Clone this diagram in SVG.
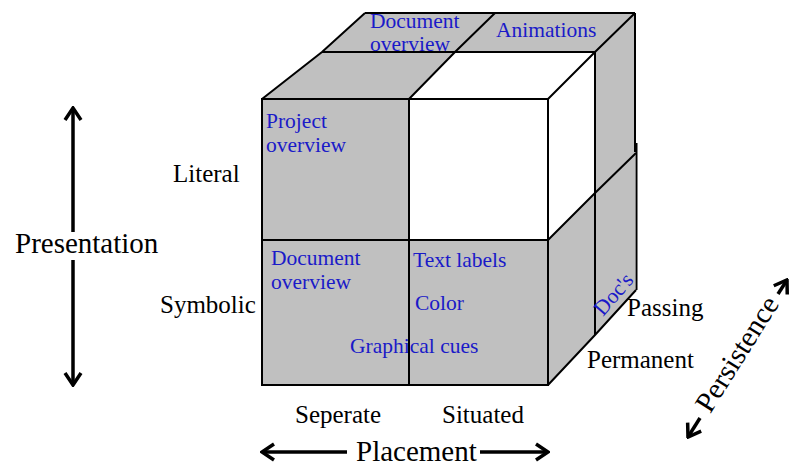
<svg xmlns="http://www.w3.org/2000/svg" width="789" height="467" viewBox="0 0 789 467">
<style>
.g{fill:#c0c0c0;stroke:none}
.w{fill:#ffffff;stroke:none}
.e{fill:none;stroke:#000;stroke-width:2;stroke-linejoin:miter}
.b{font-family:"Liberation Serif","Times New Roman",serif;font-size:21.5px;fill:#1a1ac8}
.k{font-family:"Liberation Serif","Times New Roman",serif;font-size:25px;fill:#000}
.t{font-family:"Liberation Serif","Times New Roman",serif;font-size:29px;fill:#000}
.ax{fill:none;stroke:#000;stroke-width:3.5}
</style>
<defs>
<marker id="chev" viewBox="-14 -10 16 20" refX="0" refY="0" markerWidth="16" markerHeight="20" markerUnits="userSpaceOnUse" orient="auto-start-reverse">
<path d="M-12,-8 L0,0 L-12,8" fill="none" stroke="#000" stroke-width="3.5"/>
</marker>
</defs>
<rect width="789" height="467" fill="#fff"/>
<g id="cube">
<g id="right-strip"><polygon class="g" points="595,52 635,13 635,290 595,335"/></g>
<g id="top-back">
<polygon class="g" points="322,52 365,13 635,13 595,52"/>
<text class="b" x="370" y="28">Document</text>
<text class="b" x="370" y="51">overview</text>
<text class="b" x="496" y="37">Animations</text>
</g>
<g id="top-front">
<polygon class="g" points="262,99 322,52 455,52 409,99"/>
<polygon class="w" points="409,99 455,52 595,52 548,99"/>
</g>
<g id="literal-separate">
<rect class="g" x="262" y="99" width="147" height="141"/>
<text class="b" x="266" y="128">Project</text>
<text class="b" x="266" y="152">overview</text>
</g>
<g id="literal-situated">
<rect class="w" x="409" y="99" width="139" height="141"/>
<polygon class="w" points="548,99 595,52 595,193 548,240"/>
</g>
<g id="symbolic-separate">
<rect class="g" x="262" y="240" width="147" height="145"/>
<text class="b" x="271" y="265">Document</text>
<text class="b" x="271" y="289">overview</text>
</g>
<g id="symbolic-situated">
<rect class="g" x="409" y="240" width="139" height="145"/>
<polygon class="g" points="548,240 595,193 595,335 548,385"/>
<text class="b" x="413" y="267">Text labels</text>
<text class="b" x="415" y="310">Color</text>
</g>
<text class="b" x="350" y="353">Graphical cues</text>
<g id="edges">
<polyline class="e" points="365,13 635,13"/>
<polyline class="e" points="322,52 595,52"/>
<polyline class="e" points="262,99 322,52 365,13"/>
<polyline class="e" points="409,99 455,52 495,13"/>
<polyline class="e" points="548,99 595,52 635,13"/>
<polyline class="e" points="635,13 635,152"/>
<polyline class="e" points="636.5,143 636.5,290"/>
<polyline class="e" points="595,52 595,335"/>
<rect class="e" x="262" y="99" width="286" height="286"/>
<polyline class="e" points="409,99 409,385"/>
<polyline class="e" points="262,240 548,240"/>
<polyline class="e" points="548,240 595,193 636,153"/>
<polyline class="e" points="548,385 595,335 636,290"/>
</g>
<g id="passing-column">
<text class="b" x="603" y="317" transform="rotate(-49 603 317)">Doc's</text>
</g>
</g>
<g id="labels">
<text class="k" x="173" y="182">Literal</text>
<text class="k" x="160" y="313">Symbolic</text>
<text class="k" x="627" y="316">Passing</text>
<text class="k" x="587" y="368">Permanent</text>
<text class="k" x="295" y="423">Seperate</text>
<text class="k" x="442" y="423">Situated</text>
<text class="t" x="15" y="253">Presentation</text>
<text class="t" x="356" y="461">Placement</text>
<text class="t" x="745" y="359" text-anchor="middle" transform="rotate(-57.8 745 359)">Persistence</text>
</g>
<g id="connectors">
<line class="ax" x1="73" y1="108" x2="73" y2="232" marker-start="url(#chev)"/>
<line class="ax" x1="73" y1="260" x2="73" y2="385" marker-end="url(#chev)"/>
<line class="ax" x1="262" y1="452" x2="347" y2="452" marker-start="url(#chev)"/>
<line class="ax" x1="480" y1="452" x2="548" y2="452" marker-end="url(#chev)"/>
<line class="ax" x1="688" y1="437" x2="700" y2="418" marker-start="url(#chev)"/>
<line class="ax" x1="778" y1="294" x2="787" y2="280" marker-end="url(#chev)"/>
</g>
</svg>
